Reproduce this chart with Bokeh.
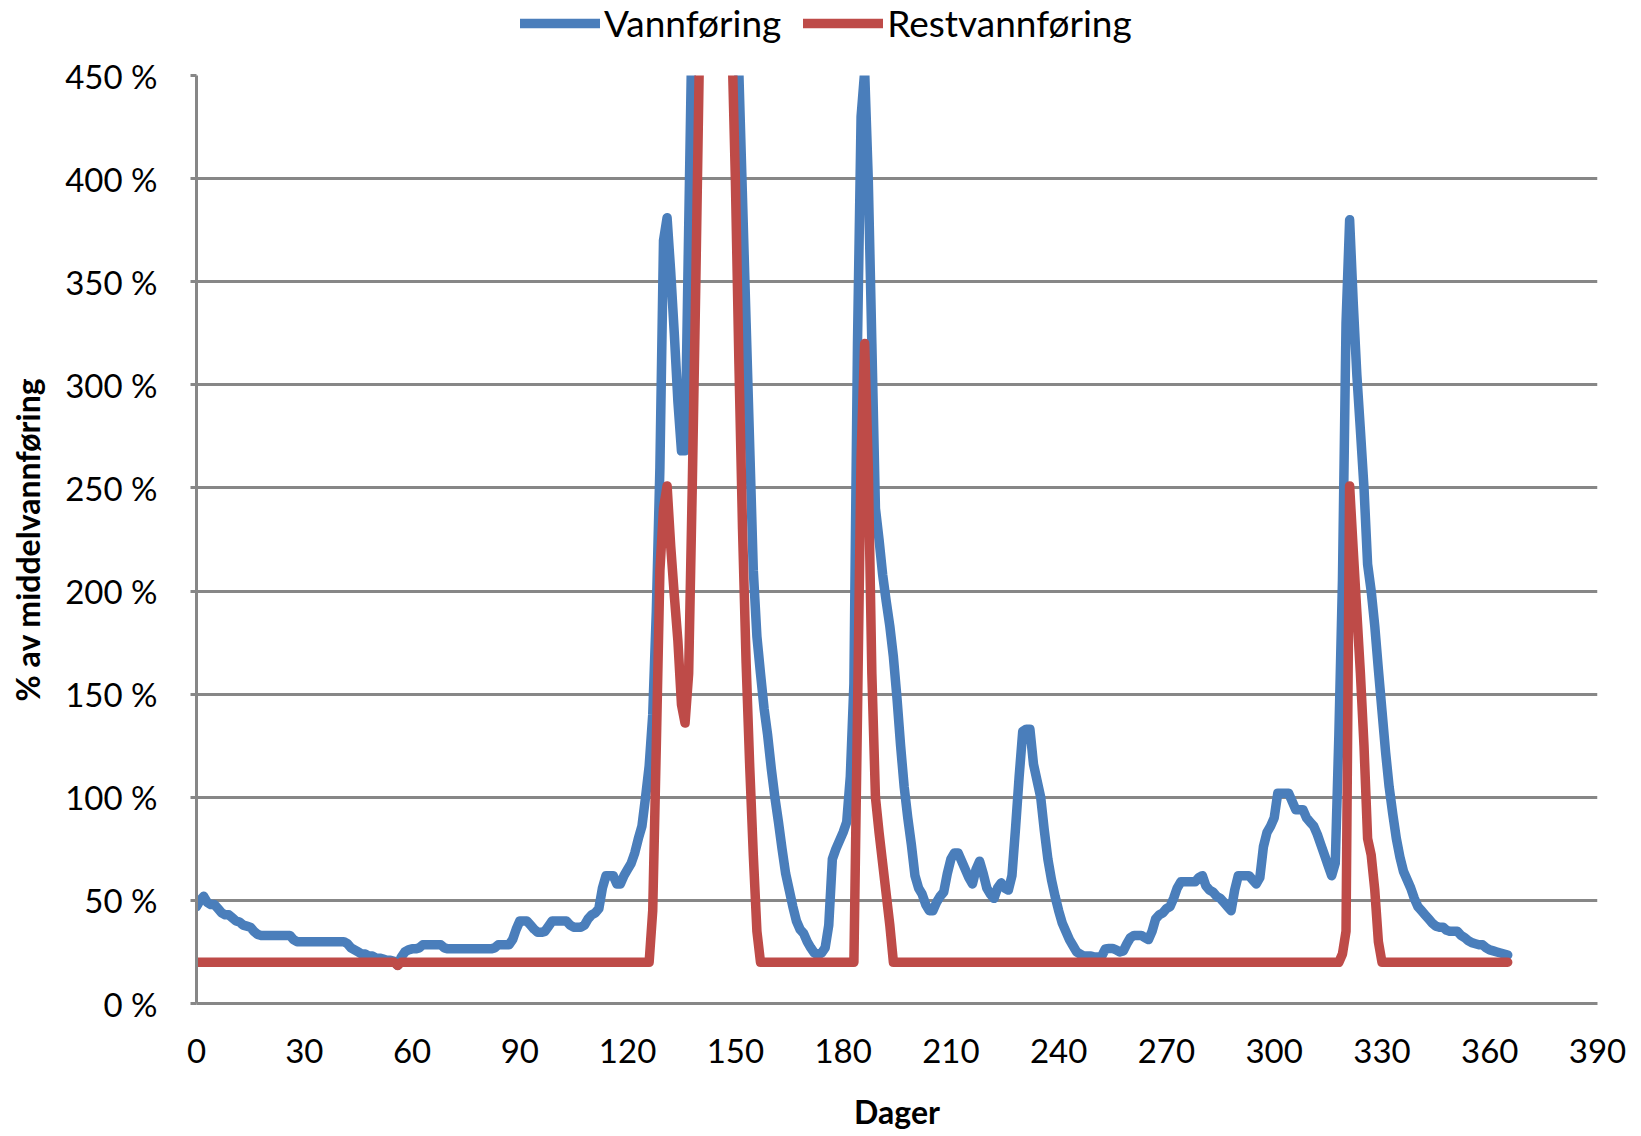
from bokeh.plotting import figure
from bokeh.layouts import column
from bokeh.models import (ColumnDataSource, FixedTicker, PrintfTickFormatter,
                          Legend, LegendItem, Range1d)
from bokeh.embed import file_html
from bokeh.resources import INLINE

# Daily flow as % of mean flow, day 0..365
dager = list(range(366))

vannforing = [
    47, 50, 52, 49, 48, 48, 46, 44, 43, 43,            # 0-9
    41.5, 40, 39.5, 38, 37.5, 37, 35, 33.5, 33, 33,    # 10-19
    33, 33, 33, 33, 33, 33, 33, 31, 30, 30,            # 20-29
    30, 30, 30, 30, 30, 30, 30, 30, 30, 30,            # 30-39
    30, 30, 29, 27, 26, 25, 24, 24, 23, 23,            # 40-49
    22, 22, 21.5, 21, 21, 20.5, 18.5, 22.5, 25, 26,    # 50-59
    26.5, 26.5, 27, 28.5, 28.5, 28.5, 28.5, 28.5, 28.5, 27,   # 60-69
    26.5, 26.5, 26.5, 26.5, 26.5, 26.5, 26.5, 26.5, 26.5, 26.5,  # 70-79
    26.5, 26.5, 26.5, 27, 28.5, 28.5, 28.5, 28.5, 31, 36,     # 80-89
    40, 40, 40, 38, 36, 34.5, 34.5, 35, 37.5, 40,      # 90-99
    40, 40, 40, 40, 38, 37, 37, 37, 38, 41,            # 100-109
    43, 44, 46, 56, 62, 62, 62, 58, 58, 62,            # 110-119
    65, 68, 73, 80, 86, 100, 115, 140, 190, 260,       # 120-129
    370, 381, 355, 325, 292, 268, 268, 375, 480, 580,  # 130-139
    650, 700, 720, 700, 680, 650, 620, 600, 580, 560,  # 140-149
    510, 450, 390, 330, 270, 210, 178, 160, 143, 130,  # 150-159
    114, 100, 88, 75, 63, 55, 47, 40, 36, 34,          # 160-169
    30, 27, 24.5, 23.5, 24.5, 27, 38, 70, 75, 79,      # 170-179
    83, 88, 110, 155, 320, 430, 452, 400, 320, 240,    # 180-189
    225, 208, 195, 183, 168, 148, 125, 105, 90, 77,    # 190-199
    62, 56, 53, 48, 45, 45, 49, 52, 54, 63,            # 200-209
    70, 73, 73, 69, 65, 61, 58, 65, 69, 63,            # 210-219
    56, 53, 51, 56, 58.5, 56, 55, 62, 85, 110,         # 220-229
    132, 133, 133, 116, 108, 100, 84, 70, 60, 52,      # 230-239
    45, 39, 35, 31, 28, 25, 24, 23, 23, 23,            # 240-249
    22.5, 22.5, 23, 26.5, 26.7, 26.7, 26, 25, 25.5, 29,  # 250-259
    32, 33, 33, 33, 32, 31, 35, 41, 43, 44,            # 260-269
    46, 47, 51, 56, 59, 59, 59, 59, 59, 61,            # 270-279
    62, 57, 55, 54, 52, 51, 49, 47, 45, 55,            # 280-289
    62, 62, 62, 62, 60, 58, 61, 76, 83, 86,            # 290-299
    90, 102, 102, 102, 102, 98, 94, 94, 94, 90,        # 300-309
    88, 86, 82, 77, 72, 67, 62, 68, 130, 205,          # 310-319
    330, 380, 340, 305, 278, 250, 213, 200, 183, 162,  # 320-329
    142, 122, 105, 92, 80, 71, 64, 60, 56, 51,         # 330-339
    47, 45, 43, 41, 39, 37.5, 37, 37, 35.5, 35,        # 340-349
    35, 35, 33, 32, 30.5, 29.5, 29, 28.5, 28.5, 27,    # 350-359
    26, 25.5, 25, 24.5, 24, 23.5,                      # 360-365
]

restvannforing = (
    [20] * 56 + [18.5] + [20] * 70 +                   # 0-126
    [45, 125, 210, 240, 251, 222, 198, 176, 145, 136,  # 127-136
     160, 250, 350, 460, 570, 590, 575, 555, 530, 510, # 137-146
     500, 490, 470, 400, 310, 230, 165, 115, 72, 35] + # 147-156
    [20] * 27 +                                        # 157-183
    [140, 265, 320, 260, 160, 100, 83, 68, 53, 38] +   # 184-193
    [20] * 125 +                                       # 194-318
    [24, 35, 251, 220, 190, 160, 125, 80, 72, 55, 30] +  # 319-329
    [20] * 36                                          # 330-365
)

x_ticks = list(range(0, 391, 30))
y_ticks = list(range(0, 451, 50))

BLUE = "#4A7EBB"
RED = "#BE4B48"
GRID = "#878787"
FONT = "Lato"
LINE_W = 9.5

source = ColumnDataSource(data=dict(dag=dager, vann=vannforing, rest=restvannforing))

# ---- main chart ----
p = figure(width=1641, height=1086, output_backend="svg", toolbar_location=None,
           x_range=Range1d(0, 390), y_range=Range1d(0, 450),
           min_border_left=196, min_border_right=44,
           min_border_top=25, min_border_bottom=133)
p.outline_line_color = None
p.background_fill_color = "white"
p.border_fill_color = "white"

p.line("dag", "vann", source=source, line_color=BLUE, line_width=LINE_W,
       line_join="round", line_cap="round")
p.line("dag", "rest", source=source, line_color=RED, line_width=LINE_W,
       line_join="round", line_cap="round")

p.xgrid.grid_line_color = None
p.ygrid.ticker = FixedTicker(ticks=y_ticks)
p.ygrid.grid_line_color = GRID
p.ygrid.grid_line_width = 3

p.xaxis.ticker = FixedTicker(ticks=x_ticks)
p.yaxis.ticker = FixedTicker(ticks=y_ticks)
p.yaxis.formatter = PrintfTickFormatter(format="%d %%")

for ax in (p.xaxis[0], p.yaxis[0]):
    ax.axis_line_color = GRID
    ax.axis_line_width = 3
    ax.minor_tick_line_color = None
    ax.major_label_text_font = FONT
    ax.major_label_text_font_size = "33px"
    ax.major_label_text_color = "black"
    ax.axis_label_text_font = FONT
    ax.axis_label_text_font_size = "32px"
    ax.axis_label_text_font_style = "bold"
    ax.axis_label_text_color = "black"

p.xaxis.major_tick_line_color = None
p.xaxis.major_tick_out = 0
p.xaxis.major_tick_in = 0
p.xaxis.major_label_standoff = 35
p.xaxis.axis_label = "Dager"
p.xaxis.axis_label_standoff = 26

p.yaxis.major_tick_line_color = GRID
p.yaxis.major_tick_line_width = 3
p.yaxis.major_tick_out = 6
p.yaxis.major_tick_in = 0
p.yaxis.major_label_standoff = 33
p.yaxis.axis_label = "% av middelvannføring"
p.yaxis.axis_label_standoff = 15

# ---- legend strip above the chart (its frame lines up with the chart frame) ----
lg = figure(width=1641, height=50, output_backend="svg", toolbar_location=None,
            x_axis_location=None, y_axis_location=None,
            min_border_left=196, min_border_right=44,
            min_border_top=0, min_border_bottom=0,
            x_range=Range1d(0, 1), y_range=Range1d(0, 1))
lg.outline_line_color = None
lg.grid.grid_line_color = None
lg.border_fill_color = "white"
lg.background_fill_color = "white"

# key glyphs only; their points sit outside the visible range
k_vann = lg.line(x=[-5, -4], y=[-5, -5], line_color=BLUE, line_width=LINE_W,
                 line_cap="round")
k_rest = lg.line(x=[-5, -4], y=[-5, -5], line_color=RED, line_width=LINE_W,
                 line_cap="round")

legend = Legend(items=[LegendItem(label="Vannføring", renderers=[k_vann]),
                       LegendItem(label="Restvannføring", renderers=[k_rest])],
                orientation="horizontal", location=(324, 5),
                label_text_font=FONT, label_text_font_size="37px",
                label_text_color="black", glyph_width=80, glyph_height=40,
                label_height=40, label_standoff=4, spacing=22,
                padding=0, margin=0, border_line_color=None,
                background_fill_alpha=0)
lg.add_layout(legend, "center")

layout = column(lg, p, spacing=0)
open("out.html", "w").write(file_html(layout, INLINE))
